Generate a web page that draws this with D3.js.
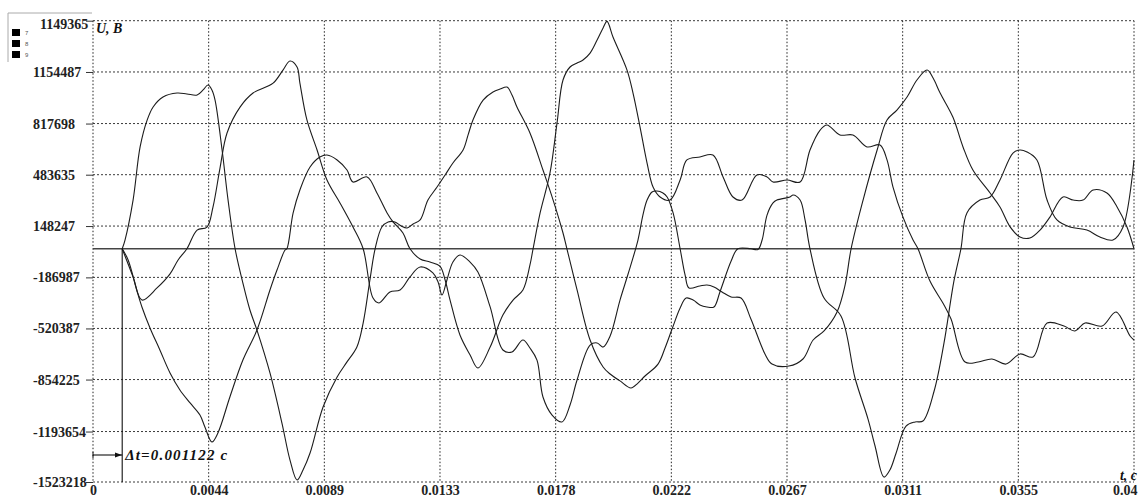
<!DOCTYPE html>
<html><head><meta charset="utf-8">
<script src="https://cdn.jsdelivr.net/npm/d3@7"></script>
<style>
html,body{margin:0;padding:0;background:#fff;}
svg{display:block;}
.tick text{font-family:"Liberation Serif","Times New Roman",serif;font-weight:bold;font-size:14px;fill:#222;}
</style></head>
<body>
<svg id="chart" width="1139" height="498"></svg>
<script>
// ---- data ----
const xTickValues = [0, 0.0044444, 0.0088889, 0.0133333, 0.0177778, 0.0222222, 0.0266667, 0.0311111, 0.0355556, 0.04];
const xTickLabels = ["0", "0.0044", "0.0089", "0.0133", "0.0178", "0.0222", "0.0267", "0.0311", "0.0355", "0.04"];
const yTickValues = [-1523218, -1193654, -854225, -520387, -186987, 148247, 483635, 817698, 1154487, 1489365];
const yTickLabels = ["-1523218", "-1193654", "-854225", "-520387", "-186987", "148247", "483635", "817698", "1154487", "1149365"];
const legendLabels = ["7", "8", "9"];
const deltaT = 0.001122;

// [t (s), U (V)]
const phase7 = [
[0.001122,0],[0.00123,57000],[0.00154,318000],[0.00181,665000],[0.00208,840000],[0.00231,926000],[0.00269,991000],
[0.00323,1017000],[0.00361,1011000],[0.00400,1004000],[0.00423,1037000],[0.00442,1069000],[0.00457,1037000],[0.00469,971000],
[0.00496,645000],[0.00519,318000],[0.00546,0],[0.00576,-224000],[0.00603,-400000],[0.00630,-531000],[0.00680,-811000],
[0.00726,-1138000],[0.00757,-1380000],[0.00784,-1510000],[0.00807,-1445000],[0.00834,-1334000],[0.00884,-1033000],
[0.00938,-837000],[0.00976,-739000],[0.01014,-641000],[0.01038,-485000],[0.01064,-204000],[0.01084,0],[0.01110,142000],
[0.01134,175000],[0.01160,175000],[0.01184,149000],[0.01207,136000],[0.01230,162000],[0.01257,188000],[0.01287,318000],
[0.01322,403000],[0.01353,482000],[0.01383,560000],[0.01422,645000],[0.01441,742000],[0.01460,841000],[0.01499,971000],
[0.01537,1024000],[0.01564,1043000],[0.01591,1056000],[0.01610,1004000],[0.01629,926000],[0.01679,756000],[0.01729,514000],
[0.01768,318000],[0.01806,103000],[0.01821,0],[0.01860,-269000],[0.01910,-596000],[0.01960,-772000],[0.01987,-818000],
[0.02025,-863000],[0.02067,-909000],[0.02094,-877000],[0.02121,-831000],[0.02171,-753000],[0.02198,-648000],[0.02225,-524000],
[0.02256,-387000],[0.02279,-322000],[0.02306,-335000],[0.02332,-367000],[0.02359,-380000],[0.02386,-380000],[0.02409,-282000],
[0.02452,-80000],[0.02478,0],[0.02528,0],[0.02555,-5000],[0.02571,57000],[0.02590,220000],[0.02613,299000],[0.02628,318000],
[0.02678,338000],[0.02690,351000],[0.02717,318000],[0.02736,188000],[0.02755,0],[0.02809,-322000],[0.02874,-439000],
[0.02928,-844000],[0.02978,-1112000],[0.03005,-1288000],[0.03039,-1491000],[0.03062,-1445000],[0.03086,-1334000],
[0.03124,-1158000],[0.03159,-1131000],[0.03189,-1125000],[0.03232,-929000],[0.03270,-615000],[0.03308,-211000],[0.03335,0],
[0.03358,234000],[0.03408,318000],[0.03447,338000],[0.03485,449000],[0.03535,625000],[0.03562,645000],[0.03589,632000],
[0.03627,580000],[0.03666,318000],[0.03704,188000],[0.03754,142000],[0.03819,122000],[0.03869,77000],[0.03919,57000],
[0.03958,142000],[0.04000,580000]
];
const phase8 = [
[0.001122,0],[0.00135,-73000],[0.00169,-276000],[0.00188,-380000],[0.00219,-517000],[0.00257,-661000],[0.00296,-811000],
[0.00334,-922000],[0.00373,-1007000],[0.00411,-1086000],[0.00430,-1164000],[0.00457,-1262000],[0.00480,-1203000],
[0.00526,-968000],[0.00576,-727000],[0.00630,-531000],[0.00680,-269000],[0.00707,-139000],[0.00738,-8000],[0.00745,0],
[0.00769,234000],[0.00795,384000],[0.00834,534000],[0.00872,599000],[0.00899,612000],[0.00938,580000],[0.00976,514000],
[0.00999,436000],[0.01053,469000],[0.01091,364000],[0.01130,234000],[0.01153,175000],[0.01191,103000],[0.01218,0],
[0.01257,-67000],[0.01295,-87000],[0.01333,-113000],[0.01353,-204000],[0.01372,-335000],[0.01410,-563000],[0.01449,-694000],
[0.01479,-779000],[0.01526,-642000],[0.01575,-433000],[0.01614,-335000],[0.01652,-269000],[0.01679,-106000],[0.01691,0],
[0.01718,234000],[0.01756,495000],[0.01783,821000],[0.01806,1102000],[0.01833,1187000],[0.01860,1213000],[0.01883,1233000],
[0.01910,1278000],[0.01937,1363000],[0.01960,1442000],[0.01975,1485000],[0.01998,1383000],[0.02052,1167000],[0.02075,1017000],
[0.02102,795000],[0.02129,560000],[0.02152,403000],[0.02179,338000],[0.02217,318000],[0.02256,449000],[0.02282,580000],
[0.02332,599000],[0.02382,612000],[0.02421,469000],[0.02459,338000],[0.02494,318000],[0.02551,482000],[0.02590,469000],
[0.02613,436000],[0.02667,449000],[0.02717,436000],[0.02755,645000],[0.02794,775000],[0.02820,808000],[0.02870,743000],
[0.02920,743000],[0.02974,665000],[0.03024,678000],[0.03051,580000],[0.03074,403000],[0.03112,208000],[0.03151,57000],
[0.03170,0],[0.03216,-211000],[0.03270,-367000],[0.03297,-459000],[0.03351,-740000],[0.03401,-740000],[0.03454,-720000],
[0.03508,-753000],[0.03562,-687000],[0.03612,-707000],[0.03666,-485000],[0.03731,-505000],[0.03773,-537000],[0.03812,-485000],
[0.03877,-505000],[0.03931,-413000],[0.03985,-570000],[0.04000,-596000]
];
const phase9 = [
[0.001122,0],[0.00154,-184000],[0.00188,-335000],[0.00246,-256000],[0.00296,-164000],[0.00327,-73000],[0.00361,0],
[0.00400,122000],[0.00438,142000],[0.00461,272000],[0.00488,527000],[0.00515,756000],[0.00565,925000],[0.00615,1017000],
[0.00692,1082000],[0.00730,1167000],[0.00757,1226000],[0.00784,1187000],[0.00795,1082000],[0.00822,841000],[0.00861,645000],
[0.00899,449000],[0.00949,299000],[0.00999,142000],[0.01038,0],[0.01076,-322000],[0.01099,-354000],[0.01141,-282000],
[0.01180,-269000],[0.01218,-184000],[0.01257,-119000],[0.01306,-158000],[0.01326,-217000],[0.01341,-302000],[0.01360,-204000],
[0.01383,-87000],[0.01410,-41000],[0.01449,-87000],[0.01479,-152000],[0.01526,-380000],[0.01575,-661000],[0.01610,-674000],
[0.01652,-596000],[0.01679,-648000],[0.01706,-727000],[0.01729,-968000],[0.01764,-1086000],[0.01802,-1131000],
[0.01833,-1020000],[0.01860,-857000],[0.01910,-629000],[0.01937,-615000],[0.01960,-642000],[0.01987,-570000],[0.02025,-335000],
[0.02056,-165000],[0.02094,57000],[0.02113,220000],[0.02129,318000],[0.02148,371000],[0.02167,377000],[0.02190,364000],
[0.02206,338000],[0.02229,234000],[0.02256,0],[0.02275,-171000],[0.02290,-256000],[0.02332,-243000],[0.02359,-237000],
[0.02386,-250000],[0.02417,-282000],[0.02452,-315000],[0.02490,-322000],[0.02528,-459000],[0.02582,-687000],[0.02609,-753000],
[0.02674,-766000],[0.02728,-720000],[0.02767,-596000],[0.02809,-537000],[0.02859,-413000],[0.02890,-236000],[0.02913,0],
[0.02959,318000],[0.03013,645000],[0.03051,841000],[0.03089,906000],[0.03128,991000],[0.03166,1102000],[0.03205,1167000],
[0.03228,1115000],[0.03255,1017000],[0.03304,860000],[0.03343,665000],[0.03381,514000],[0.03447,364000],[0.03485,273000],
[0.03524,143000],[0.03562,77000],[0.03600,70000],[0.03639,122000],[0.03677,207000],[0.03727,338000],[0.03766,318000],
[0.03804,318000],[0.03843,384000],[0.03896,364000],[0.03935,273000],[0.03973,142000],[0.04000,0]
];
const seriesList = [phase7, phase8, phase9];

// ---- layout ----
const svg = d3.select("#chart");
const L = 93, R = 1134, T = 20.7, B = 482;
const x = d3.scaleLinear().domain([0, 0.04]).range([L, R]);
const y = d3.scaleLinear().domain([-1523218, 1489365]).range([B, T]);

// grid
const grid = svg.append("g");
grid.selectAll("line.h").data(yTickValues).join("line")
  .attr("x1", L).attr("x2", R).attr("y1", d => y(d)).attr("y2", d => y(d))
  .attr("stroke", "#3a3a3a").attr("stroke-width", 1).attr("stroke-dasharray", "2,2");
grid.selectAll("line.v").data(xTickValues).join("line")
  .attr("y1", T).attr("y2", B).attr("x1", d => x(d)).attr("x2", d => x(d))
  .attr("stroke", "#222").attr("stroke-width", 1).attr("stroke-dasharray", "1.5,2");

// zero line
svg.append("line").attr("x1", L).attr("x2", R).attr("y1", y(0)).attr("y2", y(0))
  .attr("stroke", "#444").attr("stroke-width", 1.6);

// axes
const yAxis = svg.append("g").attr("transform", `translate(${L},0)`)
  .call(d3.axisLeft(y).tickValues(yTickValues).tickFormat((d, i) => yTickLabels[i]).tickSize(7).tickPadding(0));
yAxis.select(".domain").remove();
yAxis.selectAll(".tick line").attr("stroke", "#333");
yAxis.selectAll(".tick text").attr("text-anchor", "start").attr("x", (d, i) => i === yTickLabels.length - 1 ? -53 : -60)
  .attr("dy", (d, i) => i === yTickLabels.length - 1 ? "0.55em" : "0.32em");

const xAxis = svg.append("g").attr("transform", `translate(0,${B})`)
  .call(d3.axisBottom(x).tickValues(xTickValues).tickFormat((d, i) => xTickLabels[i]).tickSize(0).tickPadding(3));
xAxis.select(".domain").remove();
xAxis.selectAll(".tick text").filter((d, i) => i === xTickLabels.length - 1)
  .attr("text-anchor", "end").attr("x", 3);

// curves
const line = d3.line().x(d => x(d[0])).y(d => y(d[1])).curve(d3.curveCatmullRom.alpha(0.5));
svg.append("g").selectAll("path").data(seriesList).join("path")
  .attr("d", line).attr("fill", "none").attr("stroke", "#1c1c1c").attr("stroke-width", 1.1);

// delta t annotation
svg.append("line").attr("x1", x(deltaT)).attr("x2", x(deltaT)).attr("y1", y(0)).attr("y2", B)
  .attr("stroke", "#111").attr("stroke-width", 1.1);
const defs = svg.append("defs");
defs.append("marker").attr("id", "arr").attr("viewBox", "0 0 10 10").attr("refX", 10).attr("refY", 5)
  .attr("markerWidth", 7).attr("markerHeight", 7).attr("orient", "auto")
  .append("path").attr("d", "M0,1.5 L10,5 L0,8.5 Z").attr("fill", "#111");
svg.append("line").attr("x1", L).attr("x2", x(deltaT)).attr("y1", 455).attr("y2", 455)
  .attr("stroke", "#111").attr("stroke-width", 1.1).attr("marker-end", "url(#arr)");
svg.append("line").attr("x1", L).attr("x2", L).attr("y1", 452).attr("y2", 458).attr("stroke", "#111");
svg.append("text").attr("x", x(deltaT) + 3).attr("y", 460)
  .attr("font-family", "Liberation Serif, Times New Roman, serif").attr("font-style", "italic").attr("font-weight", "bold")
  .attr("font-size", 15).attr("fill", "#111").attr("textLength", 102)
  .text("\u0394t=" + deltaT.toFixed(6) + " с");

// axis titles
svg.append("text").attr("x", 96).attr("y", 33)
  .attr("font-family", "Liberation Serif, Times New Roman, serif").attr("font-style", "italic").attr("font-weight", "bold")
  .attr("font-size", 14).attr("fill", "#111").text("U, В");
svg.append("text").attr("x", 1137).attr("y", 480).attr("text-anchor", "end")
  .attr("font-family", "Liberation Serif, Times New Roman, serif").attr("font-style", "italic").attr("font-weight", "bold")
  .attr("font-size", 14).attr("fill", "#111").text("t, с");

// legend
const lg = svg.append("g");
lg.append("line").attr("x1", 8).attr("x2", 92).attr("y1", 13).attr("y2", 13).attr("stroke", "#aaa");
lg.append("line").attr("x1", 8).attr("x2", 8).attr("y1", 13).attr("y2", 62).attr("stroke", "#aaa");
lg.selectAll("rect").data(legendLabels).join("rect")
  .attr("x", 12).attr("y", (d, i) => 29 + i * 11).attr("width", 8).attr("height", 7).attr("fill", "#000");
lg.selectAll("text").data(legendLabels).join("text")
  .attr("x", 25).attr("y", (d, i) => 35 + i * 11).attr("font-family", "Liberation Sans, Arial, sans-serif")
  .attr("font-size", 6).attr("fill", "#555").text(d => d);
</script>
</body></html>
